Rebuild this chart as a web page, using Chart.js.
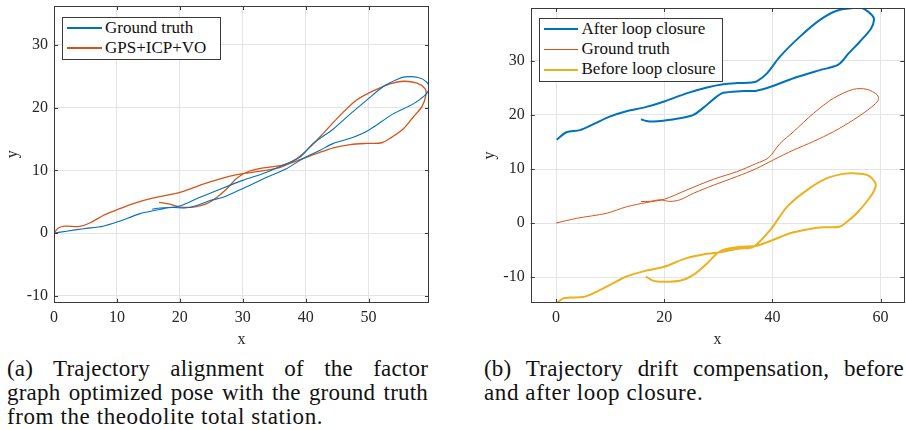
<!DOCTYPE html>
<html>
<head>
<meta charset="utf-8">
<script src="https://cdn.jsdelivr.net/npm/chart.js@4.4.1/dist/chart.umd.min.js"></script>
<style>
  body { margin: 0; background: #fff; width: 906px; height: 430px; overflow: hidden; position: relative; font-family: "Liberation Serif", "DejaVu Serif", serif; color: #262626; }
  canvas { position: absolute; top: 0; }
  .legend { position: absolute; border: 1px solid #3a3a3a; background: #fff; box-sizing: border-box; }
  .swatch { position: absolute; }
  .ltext { position: absolute; font-family: "Liberation Serif", serif; font-size: 17px; line-height: 20px; white-space: nowrap; color: #111; }
  .cap { position: absolute; font-family: "Liberation Serif", serif; font-size: 23px; line-height: 24px; letter-spacing: 0.6px; color: #111; white-space: nowrap; }
  .just { text-align: justify; text-align-last: justify; white-space: normal; letter-spacing: 0.2px; }
</style>
</head>
<body>
<canvas id="plotA" width="440" height="352" style="left:0"></canvas>
<canvas id="plotB" width="446" height="352" style="left:460px"></canvas>

<div class="legend" style="left:62px;top:17px;width:159px;height:43px"></div>
<div class="legend" style="left:539px;top:18px;width:184px;height:64px"></div>
<div id="legendRows"></div>

<div class="cap just" style="left:7px;top:357px;width:421px">(a) Trajectory alignment of the factor</div>
<div class="cap just" style="left:7px;top:381px;width:421px">graph optimized pose with the ground truth</div>
<div class="cap" style="left:7px;top:405px">from the theodolite total station.</div>
<div class="cap just" style="left:484px;top:357px;width:420px">(b) Trajectory drift compensation, before</div>
<div class="cap" style="left:484px;top:381px">and after loop closure.</div>

<script>
// (a) ground truth vs fused estimate
const gtTrackA = [[0,0],[2,0.3],[4.7,0.7],[7.8,1.1],[10,1.75],[13.7,3.1],[16,3.6],[18,4.0],[20,4.3],
  [23.2,5.7],[26.4,7.0],[30,8.4],[33.8,9.7],[37,11.1],[39.1,12.1],[41.2,14.3],[44.4,16.6],[47.1,19.0],
  [49.7,21.2],[52.4,23.4],[54.5,24.5],[55.8,24.9],[57.9,24.8],[59.2,24.1],[59.6,23.2],[59.1,22.1],
  [57.1,20.6],[53.9,19.0],[50,16.4],[47.1,15.1],[44.4,14.3],[42.3,13.2],[39.6,11.9],[37,10.3],
  [33.8,8.9],[30,7.1],[26.9,5.7],[24.8,5.2],[22.7,4.4],[20.8,4.0],[19,4.1],[16.9,4.0],[15.6,3.8]];
const fusedTrackA = [[0,0],[0.7,0.8],[1.75,1.1],[4.1,1.06],[5.7,1.6],[7.8,2.8],[10,3.7],[12.6,4.7],
  [15.8,5.6],[20,6.5],[24.3,8.0],[28.5,9.2],[31.7,9.7],[35.4,10.3],[37.5,11.1],[39.1,11.7],[41.8,12.7],
  [44.4,13.6],[47.1,14.1],[49.7,14.3],[52.1,14.4],[53.7,15.3],[55.5,16.6],[57.1,18.5],[58.5,20.2],
  [59.1,22.0],[59,23.0],[57.7,23.9],[55.5,24.2],[53.4,23.8],[50.8,22.7],[48.1,21.2],[45.5,18.8],
  [42.8,15.9],[40.7,13.7],[38.6,11.9],[37,11.0],[34.9,10.6],[32.8,10.3],[30.6,9.7],[29,8.7],
  [27.5,7.1],[25.9,5.7],[24.3,4.7],[22.2,4.15],[20,4.15],[18.4,4.6],[16.7,4.9]];

// (b) before / after loop closure
const afterTrackB = [[0.1,15.4],[1.9,16.8],[4.4,17.2],[6.9,18.3],[9.9,19.7],[13,20.7],[16.7,21.5],
  [20,22.5],[24.1,24.0],[27.9,25.1],[30.9,25.7],[33.4,25.9],[36.2,26.0],[37.1,26.2],[39,27.7],
  [41.4,30.8],[45.1,34.5],[48.8,37.6],[51.9,39.3],[55,39.8],[56.6,39.8],[58.4,38.5],[58.8,37.6],
  [58.2,35.9],[56.2,33.6],[54.1,31.4],[52.2,29.3],[48.8,28.3],[43.9,26.8],[40.2,25.4],[37.1,24.5],
  [34,24.4],[30.9,24.1],[29.7,23.4],[27.9,21.9],[25.4,20],[22.9,19.4],[19.8,18.95],[18,18.8],
  [16.7,18.9],[15.7,19.2]];
const gtTrackB = [[0,0],[3.8,0.87],[9.3,1.8],[13,3.0],[16.7,3.8],[20,4.4],[24.1,6.1],[29.1,8.1],
  [33.4,9.5],[37.1,11.05],[39.3,12.1],[41.4,14.7],[43.9,16.9],[47.6,20.3],[51.3,23.1],[55,24.75],
  [57.5,24.75],[59.4,23.7],[59.6,22.8],[58.4,21.5],[55,19.1],[51.3,16.9],[47.6,15.1],[43.9,13.5],
  [40.2,11.7],[37.1,10.1],[33.4,8.6],[29.1,7.0],[25.4,5.5],[22.9,4.3],[21,4.0],[19.2,4.3],
  [17.3,4.0],[15.7,4.0]];
const beforeTrackB = [[0.1,-14.8],[1.3,-13.95],[2.5,-13.8],[5,-13.7],[6.9,-13.0],[9.9,-11.5],
  [13,-9.9],[16.7,-8.8],[20,-8.1],[24.1,-6.5],[27.9,-5.7],[30.9,-5.3],[34,-4.7],[36.5,-4.4],
  [39.6,-1.3],[42.7,3.0],[46.4,6.1],[50.1,8.3],[53.1,9.1],[55,9.2],[57.5,8.9],[59,7.5],[59,6.4],
  [57.8,4.4],[55.6,1.8],[53.8,0.25],[52.4,-0.7],[49.4,-0.8],[46.4,-1.2],[43.3,-1.9],[40.2,-3.1],
  [37.1,-4.2],[34,-4.4],[30.9,-5.0],[29.7,-5.7],[27.9,-7.5],[25.4,-9.6],[22.9,-10.7],[19.8,-10.85],
  [18,-10.7],[16.6,-9.9]];

const xTicksA = [0, 10, 20, 30, 40, 50];
const yTicksA = [-10, 0, 10, 20, 30];
const xTicksB = [0, 20, 40, 60];
const yTicksB = [-10, 0, 10, 20, 30];

const legendA = ['Ground truth', 'GPS+ICP+VO'];
const legendB = ['After loop closure', 'Ground truth', 'Before loop closure'];

const BLUE = '#0072BD', ORANGE = '#D95319', YELLOW = '#EDB120';
const FONT = { family: 'Liberation Serif', size: 16 };

function pts(arr) {
  return arr.map(([x, y]) => ({ x, y }));
}

// MATLAB style box with inward ticks
const framePlugin = {
  id: 'frame',
  afterDatasetsDraw(chart) {
    const { ctx, chartArea: a, scales: { x, y } } = chart;
    ctx.save();
    ctx.strokeStyle = '#3a3a3a';
    ctx.lineWidth = 1;
    ctx.strokeRect(Math.round(a.left) + 0.5, Math.round(a.top) + 0.5,
      Math.round(a.width) - 1, Math.round(a.height) - 1);
    ctx.beginPath();
    for (let t of x.ticks) {
      var px = Math.round(x.getPixelForValue(t.value)) + 0.5;
      ctx.moveTo(px, a.bottom); ctx.lineTo(px, a.bottom - 4);
      ctx.moveTo(px, a.top); ctx.lineTo(px, a.top + 4);
    }
    for (let t of y.ticks) {
      var py = Math.round(y.getPixelForValue(t.value)) + 0.5;
      ctx.moveTo(a.left, py); ctx.lineTo(a.left + 4, py);
      ctx.moveTo(a.right, py); ctx.lineTo(a.right - 4, py);
    }
    ctx.stroke();
    ctx.restore();
  }
};

function makeChart(id, datasets, o) {
  const axis = (ticks, min, max, fitSize, title, titlePad, horizontal) => ({
    type: 'linear',
    min: min,
    max: max,
    afterBuildTicks: s => { s.ticks = ticks.map(v => ({ value: v })); },
    afterFit: s => {
      if (horizontal) s.height = fitSize; else s.width = fitSize;
      // labels never sit on the plot edges, so no extra room is needed
      s.paddingTop = 0; s.paddingBottom = 0; s.paddingLeft = 0; s.paddingRight = 0;
    },
    grid: { color: '#e4e4e4', drawTicks: false },
    border: { display: false },
    ticks: {
      font: FONT, color: '#262626', padding: horizontal ? 5 : 6,
      autoSkip: false, maxRotation: 0, callback: v => String(v)
    },
    title: { display: true, text: title, font: FONT, color: '#262626', padding: titlePad }
  });
  return new Chart(document.getElementById(id).getContext('2d'), {
    type: 'scatter',
    data: { datasets: datasets },
    options: {
      responsive: false,
      animation: false,
      layout: { padding: o.padding },
      elements: { point: { radius: 0 }, line: { tension: 0.3 } },
      plugins: { legend: { display: false }, tooltip: { enabled: false } },
      scales: {
        x: axis(o.xTicks, o.xMin, o.xMax, o.xHeight, 'x', { top: 0, bottom: 3 }, true),
        y: axis(o.yTicks, o.yMin, o.yMax, o.yWidth, 'y', { top: o.yTitlePad, bottom: 0 }, false)
      }
    },
    plugins: [framePlugin]
  });
}

function line(data, color, width) {
  return { data: pts(data), showLine: true, borderColor: color, backgroundColor: color, borderWidth: width, fill: false };
}

makeChart('plotA', [
  line(gtTrackA, BLUE, 1.1),
  line(fusedTrackA, ORANGE, 1.3)
], {
  xTicks: xTicksA, yTicks: yTicksA, xMin: 0, xMax: 59.6, yMin: -11.1, yMax: 36.2,
  xHeight: 49.3, yWidth: 54, yTitlePad: 3,
  padding: { top: 6, right: 11, left: 0, bottom: 0 }
});

makeChart('plotB', [
  line(afterTrackB, BLUE, 2),
  line(gtTrackB, ORANGE, 1),
  line(beforeTrackB, YELLOW, 2)
], {
  xTicks: xTicksB, yTicks: yTicksB, xMin: -4.7, xMax: 64.4, yMin: -14.8, yMax: 39.8,
  xHeight: 49, yWidth: 70.7, yTitlePad: 19.7,
  padding: { top: 8, right: 1.7, left: 0, bottom: 0 }
});

// legend rows drawn as html over the canvases
const rows = document.getElementById('legendRows');
function legendRow(label, color, width, x0, x1, textX, cy) {
  var sw = document.createElement('div');
  sw.className = 'swatch';
  sw.style.cssText = `left:${x0}px;top:${cy - width / 2}px;width:${x1 - x0}px;height:${width}px;background:${color}`;
  rows.appendChild(sw);
  var tx = document.createElement('div');
  tx.className = 'ltext';
  tx.style.cssText = `left:${textX}px;top:${cy - 10.5}px`;
  tx.textContent = label;
  rows.appendChild(tx);
}
legendRow(legendA[0], BLUE, 1.1, 66.5, 101.5, 105, 28);
legendRow(legendA[1], ORANGE, 1.3, 66.5, 101.5, 105, 48);
legendRow(legendB[0], BLUE, 2, 543.5, 577.5, 581.5, 29);
legendRow(legendB[1], ORANGE, 1, 543.5, 577.5, 581.5, 49);
legendRow(legendB[2], YELLOW, 2, 543.5, 577.5, 581.5, 69.5);
</script>
</body>
</html>
